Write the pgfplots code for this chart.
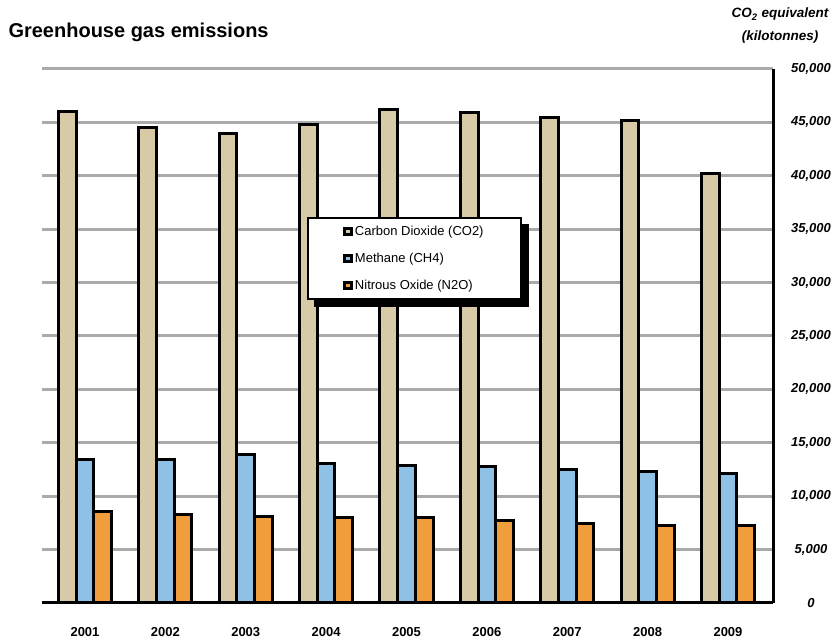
\documentclass[border=0pt]{standalone}
\usepackage{pgfplots}
\pgfplotsset{compat=1.18}
\usepackage{fontspec}
\setmainfont{Liberation Sans}

\definecolor{co2}{RGB}{216,202,166}
\definecolor{ch4}{RGB}{142,193,230}
\definecolor{n2o}{RGB}{240,157,60}
\definecolor{gridgray}{RGB}{170,170,170}

\begin{document}
\begin{tikzpicture}
\begin{axis}[
    scale only axis,
    width=731pt, height=534pt,
    clip=false,
    xmin=0.465, xmax=9.56,
    ymin=0, ymax=50000,
    axis x line*=bottom,
    axis y line*=right,
    axis line style={black, line width=3pt},
    ybar=0pt, bar width=0.22,
    xtick={1,...,9},
    xticklabels={2001,2002,2003,2004,2005,2006,2007,2008,2009},
    xticklabel style={font=\fontsize{13}{15}\selectfont\bfseries, yshift=-21pt},
    ytick={0,5000,...,50000},
    scaled y ticks=false,
    yticklabel style={font=\fontsize{13}{15}\selectfont\bfseries\itshape, anchor=center, xshift=38pt},
    /pgf/number format/.cd, fixed, 1000 sep={,}, assume math mode=true,
    /pgfplots/.cd,
    major tick length=0pt,
    ymajorgrids,
    grid style={gridgray, line width=3pt},
    every axis plot/.append style={draw=black, line width=3pt},
    legend image code/.code={\draw[line width=3pt] (0pt,-3pt) rectangle (7pt,3pt);},
    legend cell align=left,
    legend style={name=legbox, at={(rel axis cs:0.3625,0.723)}, anchor=north west,
        draw=black, line width=2pt, fill=white,
        font=\fontsize{13}{15}\selectfont,
        inner xsep=35pt, inner ysep=6pt, row sep=12pt},
]
\addplot[fill=co2] coordinates {
    (1,46000) (2,44500) (3,43950) (4,44800) (5,46250)
    (6,45900) (7,45500) (8,45200) (9,40250)};
\addplot[fill=ch4] coordinates {
    (1,13400) (2,13400) (3,13900) (4,13050) (5,12830)
    (6,12800) (7,12500) (8,12350) (9,12150)};
\addplot[fill=n2o] coordinates {
    (1,8600) (2,8250) (3,8100) (4,7980) (5,7980)
    (6,7760) (7,7400) (8,7230) (9,7230)};
\legend{Carbon Dioxide (CO2), Methane (CH4), Nitrous Oxide (N2O)}

\node[anchor=west, font=\fontsize{20}{24}\selectfont\bfseries]
    at ([xshift=-37pt,yshift=37pt]rel axis cs:0,1) {Greenhouse gas emissions};
\node[align=center, font=\fontsize{13.5}{23}\selectfont\bfseries\itshape]
    at ([xshift=7pt,yshift=43pt]rel axis cs:1,1) {CO\textsubscript{2} equivalent\\(kilotonnes)};
% fix the page to the reference's margins
\path ([xshift=-42pt,yshift=-38pt]rel axis cs:0,0) rectangle ([xshift=63pt,yshift=69pt]rel axis cs:1,1);
\end{axis}
% legend shadow, bottom and right bands
\fill[black] ([xshift=7pt]legbox.south west) rectangle ([xshift=7pt,yshift=-7pt]legbox.south east);
\fill[black] ([yshift=-7pt]legbox.north east) rectangle ([xshift=7pt,yshift=-7pt]legbox.south east);
\end{tikzpicture}
\end{document}
